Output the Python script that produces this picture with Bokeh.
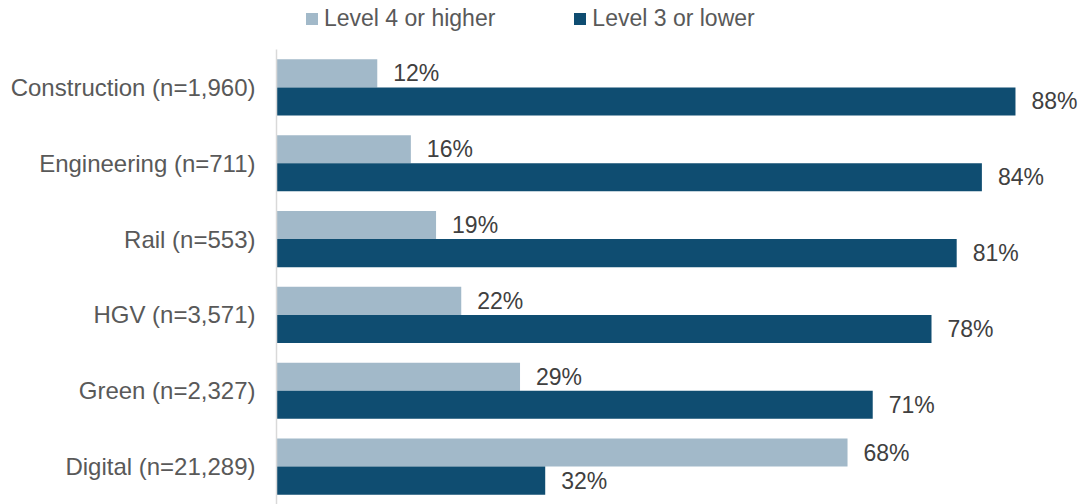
from bokeh.plotting import figure
from bokeh.models import ColumnDataSource, LabelSet, Legend, LegendItem, Range1d, FixedTicker
from bokeh.core.properties import value
from bokeh.embed import file_html
from bokeh.resources import INLINE

categories = ["Construction (n=1,960)", "Engineering (n=711)", "Rail (n=553)",
              "HGV (n=3,571)", "Green (n=2,327)", "Digital (n=21,289)"]
level4_higher = [12, 16, 19, 22, 29, 68]
level3_lower = [88, 84, 81, 78, 71, 32]
series_names = ["Level 4 or higher", "Level 3 or lower"]

LIGHT = "#A2B9C9"
DARK = "#0F4D71"
FONT = "Liberation Sans"

n = len(categories)
ypos = [n - 0.5 - i for i in range(n)]
off = 0.185
h = 0.37

src = ColumnDataSource(dict(
    y=ypos,
    y_hi=[y + off for y in ypos],
    y_lo=[y - off for y in ypos],
    hi=level4_higher,
    lo=level3_lower,
    hi_txt=[f"{v}%" for v in level4_higher],
    lo_txt=[f"{v}%" for v in level3_lower],
))

H = 504
row_px = (H - 49) / n
p = figure(width=1083, height=H, output_backend="svg", toolbar_location=None,
           y_range=Range1d(0, H / row_px), x_range=Range1d(0, 96.1),
           min_border_left=276, min_border_top=0, min_border_bottom=0, min_border_right=0)

r1 = p.hbar(y="y_hi", right="hi", left=0, height=h, source=src,
            fill_color=LIGHT, line_color=None)
r2 = p.hbar(y="y_lo", right="lo", left=0, height=h, source=src,
            fill_color=DARK, line_color=None)

for col, ycol, txt in [("hi", "y_hi", "hi_txt"), ("lo", "y_lo", "lo_txt")]:
    lbl = LabelSet(x=col, y=ycol, text=txt, source=src,
                   x_offset=16, text_baseline="middle", text_align="left",
                   text_font=value(FONT), text_font_size=value("23px"), text_color="#404040")
    p.add_layout(lbl)

p.xaxis.visible = False
p.xgrid.visible = False
p.ygrid.visible = False
p.outline_line_color = None

ya = p.yaxis[0]
ya.ticker = FixedTicker(ticks=ypos)
ya.major_label_overrides = {y: c for y, c in zip(ypos, categories)}
ya.bounds = (0, n)
ya.major_tick_line_color = None
ya.minor_tick_line_color = None
ya.axis_line_color = "#D9D9D9"
ya.axis_line_width = 1.5
ya.major_label_standoff = 15
ya.major_label_text_font = FONT
ya.major_label_text_font_size = "24px"
ya.major_label_text_color = "#595959"

legend = Legend(items=[LegendItem(label=series_names[0], renderers=[r1]),
                       LegendItem(label=series_names[1], renderers=[r2])],
                orientation="horizontal", location=(28, H - 32),
                glyph_width=15, glyph_height=15, label_standoff=5, spacing=77,
                padding=0, margin=0, border_line_color=None, background_fill_alpha=0,
                label_text_font=FONT, label_text_font_size="23px", label_text_color="#595959",
                label_height=24)
p.add_layout(legend, "center")

open("out.html", "w").write(file_html(p, INLINE))
